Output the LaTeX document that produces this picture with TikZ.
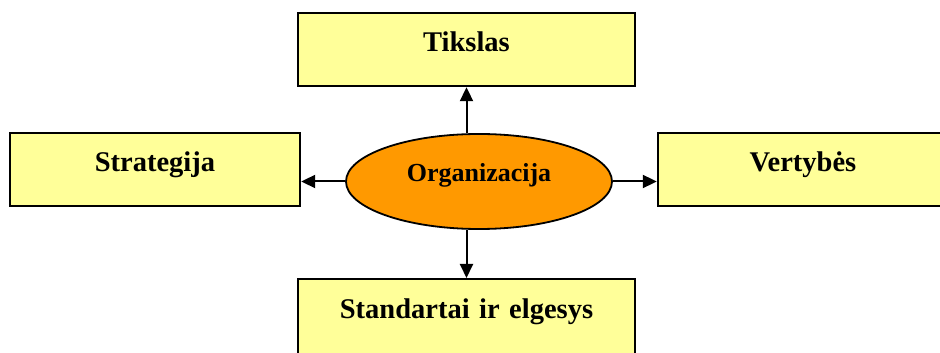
\documentclass[tikz,border=0pt]{standalone}
\usepackage{fontspec}
\setmainfont{Liberation Serif}
\usetikzlibrary{shapes.geometric,arrows.meta}
\definecolor{boxyellow}{HTML}{FFFF99}
\definecolor{orgorange}{HTML}{FF9900}
\tikzset{
  goalbox/.style={draw, line width=2.4pt, fill=boxyellow, inner sep=0pt,
    text height=39pt, text depth=34pt, align=center,
    font=\fontsize{28.5}{30}\selectfont\bfseries},
  orgnode/.style={draw, line width=1.8pt, fill=orgorange, ellipse, inner sep=0pt,
    minimum width=266pt, minimum height=95pt, text height=20pt, text depth=20pt,
    font=\fontsize{26}{28}\selectfont\bfseries},
  link/.style={line width=2pt, -{Triangle[length=14pt,width=13pt]}}
}
\begin{document}
\begin{tikzpicture}[x=1pt, y=1pt]
  \useasboundingbox (0,0) rectangle (940,353);
  \node[goalbox, text width=337pt] (tikslas) at (466.5,303.5) {Tikslas};
  \node[goalbox, text width=290pt] (strategija) at (155,183.5) {Strategija};
  \node[goalbox, text width=290pt] (vertybes) at (803,183.5) {Vertybės};
  \node[goalbox, text width=337pt, text depth=50pt, anchor=north] (standartai) at (466.5,75) {Standartai ir elgesys};
  \node[orgnode] (org) at (479,171.5) {Organizacija};
  \draw[link] (org.north -| tikslas.south) -- (tikslas.south);
  \draw[link] (org.south -| standartai.north) -- (standartai.north);
  \draw[link] (org.west) -- (org.west -| strategija.east);
  \draw[link] (org.east) -- (org.east -| vertybes.west);
\end{tikzpicture}
\end{document}
